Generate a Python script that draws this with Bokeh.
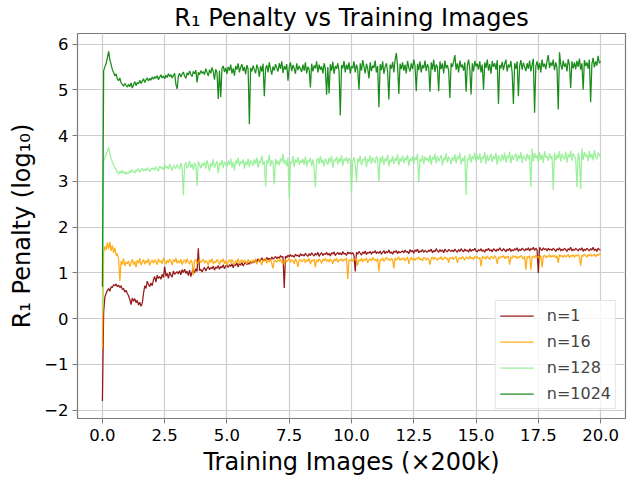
from bokeh.plotting import figure
from bokeh.models import Range1d, FixedTicker, Legend, LegendItem, NumeralTickFormatter
from bokeh.embed import file_html
from bokeh.resources import INLINE

# ---------------- data ----------------
# one value at step 0, then 20 values per unit of the x axis (0.05 apart)
steps = [0.0] + [round(0.05 * i, 2) for i in range(1, 401)]

n1 = [
    -1.80,
    0.15, 0.48, 0.55, 0.62, 0.66, 0.60, 0.70, 0.68, 0.74, 0.72, 0.76, 0.70, 0.73, 0.68, 0.72, 0.64, 0.66, 0.58, 0.62, 0.55,
    0.50, 0.42, 0.31, 0.45, 0.38, 0.44, 0.35, 0.40, 0.30, 0.36, 0.27, 0.34, 0.55, 0.72, 0.66, 0.82, 0.75, 0.70, 0.78, 0.72,
    0.85, 0.92, 0.80, 0.95, 0.88, 0.92, 0.86, 0.97, 0.90, 1.14, 0.93, 0.99, 0.88, 1.02, 0.95, 0.91, 1.04, 0.97, 1.00, 1.03,
    0.98, 1.05, 0.96, 1.07, 1.01, 1.08, 0.99, 1.04, 0.94, 1.06, 0.92, 1.02, 1.07, 1.00, 1.09, 1.03, 1.54, 1.05, 1.08, 1.02,
    1.08, 1.12, 1.04, 1.10, 1.14, 1.07, 1.12, 1.09, 1.15, 1.06, 1.13, 1.10, 1.16, 1.08, 1.14, 1.11, 1.18, 1.09, 1.15, 1.17,
    1.12, 1.18, 1.14, 1.20, 1.11, 1.19, 1.16, 1.22, 1.13, 1.21, 1.17, 1.23, 1.15, 1.20, 1.24, 1.18, 1.22, 1.19, 1.25, 1.21,
    1.26, 1.22, 1.29, 1.24, 1.31, 1.25, 1.28, 1.33, 1.26, 1.30, 1.27, 1.34, 1.29, 1.32, 1.28, 1.35, 1.30, 1.33, 1.36, 1.31,
    1.35, 1.32, 1.38, 1.34, 1.36, 0.67, 1.37, 1.33, 1.39, 1.35, 1.40, 1.36, 1.38, 1.34, 1.41, 1.37, 1.39, 1.35, 1.42, 1.38,
    1.40, 1.37, 1.43, 1.39, 1.36, 1.42, 1.38, 1.44, 1.40, 1.37, 1.43, 1.39, 1.45, 1.36, 1.41, 1.44, 1.38, 1.42, 1.40, 1.45,
    1.39, 1.43, 1.37, 1.44, 1.41, 1.46, 1.38, 1.42, 1.45, 1.40, 1.44, 1.39, 1.47, 1.41, 1.43, 1.38, 1.46, 1.42, 1.45, 1.41,
    1.44, 1.38, 1.03, 1.45, 1.41, 1.47, 1.43, 1.39, 1.46, 1.42, 1.48, 1.40, 1.45, 1.43, 1.47, 1.41, 1.46, 1.44, 1.49, 1.42,
    1.46, 1.43, 1.48, 1.41, 1.45, 1.49, 1.42, 1.47, 1.44, 1.50, 1.43, 1.46, 1.41, 1.48, 1.45, 1.49, 1.42, 1.47, 1.44, 1.46,
    1.48, 1.44, 1.50, 1.45, 1.47, 1.42, 1.51, 1.46, 1.49, 1.43, 1.50, 1.47, 1.52, 1.44, 1.48, 1.46, 1.51, 1.45, 1.49, 1.47,
    1.45, 1.50, 1.47, 1.52, 1.44, 1.49, 1.46, 1.53, 1.48, 1.45, 1.51, 1.47, 1.50, 1.44, 1.52, 1.48, 1.46, 1.51, 1.49, 1.47,
    1.50, 1.46, 1.52, 1.48, 1.45, 1.51, 1.47, 1.53, 1.49, 1.46, 1.52, 1.48, 1.50, 1.45, 1.53, 1.47, 1.51, 1.49, 1.54, 1.48,
    1.46, 1.51, 1.48, 1.53, 1.47, 1.50, 1.45, 1.52, 1.49, 1.54, 1.48, 1.51, 1.46, 1.53, 1.50, 1.47, 1.52, 1.49, 1.55, 1.50,
    1.48, 1.53, 1.50, 1.46, 1.52, 1.49, 1.54, 1.47, 1.51, 1.48, 1.53, 1.50, 1.55, 1.47, 1.52, 1.49, 1.54, 1.51, 1.48, 1.53,
    1.50, 1.55, 1.48, 1.53, 1.51, 1.56, 1.49, 1.54, 1.50, 1.00, 1.56, 1.52, 1.49, 1.55, 1.51, 1.53, 1.48, 1.54, 1.50, 1.52,
    1.49, 1.54, 1.51, 1.47, 1.53, 1.50, 1.55, 1.48, 1.52, 1.49, 1.54, 1.51, 1.47, 1.53, 1.50, 1.56, 1.48, 1.52, 1.49, 1.54,
    1.51, 1.48, 1.53, 1.50, 1.55, 1.47, 1.52, 1.49, 1.54, 1.51, 1.48, 1.53, 1.50, 1.56, 1.49, 1.52, 1.47, 1.54, 1.51, 1.50,
]

n16 = [
    -0.65,
    1.45, 1.58, 1.50, 1.66, 1.52, 1.68, 1.48, 1.60, 1.44, 1.55, 1.38, 1.42, 1.30, 0.82, 1.26, 1.18, 1.32, 1.15, 1.24, 1.20,
    1.26, 1.14, 1.22, 1.30, 1.18, 1.25, 1.12, 1.28, 1.21, 1.32, 1.17, 1.24, 1.29, 1.19, 1.27, 1.22, 1.31, 1.16, 1.25, 1.28,
    1.21, 1.29, 1.24, 1.18, 1.31, 1.23, 1.27, 1.20, 1.33, 1.25, 1.19, 1.28, 1.22, 1.30, 1.26, 1.17, 1.29, 1.24, 1.32, 1.21,
    1.27, 1.22, 1.30, 1.18, 1.26, 1.29, 1.21, 1.31, 1.24, 1.19, 1.28, 1.23, 0.95, 1.27, 1.30, 1.20, 1.25, 1.29, 1.22, 1.26,
    1.30, 1.21, 1.27, 1.24, 1.16, 1.29, 1.23, 1.31, 1.19, 1.26, 1.22, 1.30, 1.25, 1.18, 1.28, 1.24, 1.31, 1.20, 1.27, 1.16,
    1.25, 1.29, 1.21, 1.30, 1.24, 1.18, 1.27, 1.23, 1.31, 1.20, 1.26, 1.29, 1.22, 1.28, 1.25, 1.19, 1.30, 1.24, 1.27, 1.22,
    1.28, 1.23, 1.31, 1.19, 1.26, 1.30, 1.24, 1.17, 1.29, 1.25, 1.32, 1.21, 1.27, 1.24, 1.30, 1.20, 1.10, 1.28, 1.26, 1.23,
    1.29, 1.25, 1.31, 1.22, 1.27, 1.18, 1.30, 1.24, 1.28, 1.32, 1.23, 1.29, 1.26, 1.20, 1.31, 1.25, 1.13, 1.28, 1.30, 1.24,
    1.27, 1.31, 1.22, 1.29, 1.25, 1.32, 1.19, 1.28, 1.26, 1.30, 1.12, 1.29, 1.24, 1.31, 1.27, 1.21, 1.30, 1.26, 1.32, 1.25,
    1.29, 1.24, 1.31, 1.27, 1.20, 1.30, 1.26, 1.32, 1.23, 1.29, 1.27, 1.31, 1.25, 1.30, 1.28, 1.33, 0.87, 1.29, 1.26, 1.31,
    1.25, 1.30, 1.28, 1.33, 1.16, 1.29, 1.26, 1.32, 1.24, 1.30, 1.27, 1.33, 1.22, 1.29, 1.31, 1.26, 1.34, 1.28, 1.30, 1.25,
    1.32, 1.03, 1.29, 1.27, 1.33, 1.25, 1.30, 1.34, 1.28, 1.31, 1.26, 1.32, 1.29, 1.10, 1.33, 1.28, 1.31, 1.35, 1.27, 1.32,
    1.29, 1.33, 1.26, 1.31, 1.35, 1.20, 1.30, 1.34, 1.28, 1.32, 1.27, 1.33, 1.30, 1.35, 1.29, 1.31, 1.26, 1.34, 1.32, 1.28,
    1.33, 1.30, 1.18, 1.32, 1.35, 1.29, 1.34, 1.31, 1.27, 1.33, 1.30, 1.36, 1.28, 1.32, 1.35, 1.30, 1.33, 1.22, 1.34, 1.31,
    1.35, 1.29, 1.33, 1.36, 1.22, 1.31, 1.34, 1.30, 1.36, 1.32, 1.28, 1.35, 1.33, 1.30, 1.37, 1.31, 1.34, 1.29, 1.36, 1.33,
    1.36, 1.31, 1.34, 1.14, 1.37, 1.32, 1.35, 1.30, 1.37, 1.33, 1.29, 1.36, 1.34, 1.31, 1.38, 1.33, 1.20, 1.35, 1.32, 1.37,
    1.34, 1.38, 1.31, 1.36, 1.33, 1.37, 1.18, 1.35, 1.32, 1.38, 1.34, 1.37, 1.31, 1.36, 1.33, 1.38, 1.35, 1.30, 1.37, 1.07,
    1.36, 1.33, 1.38, 1.07, 1.35, 1.37, 1.32, 1.39, 1.34, 1.36, 1.31, 1.38, 1.12, 1.36, 1.39, 1.33, 1.37, 1.35, 1.40, 1.34,
    1.38, 1.35, 1.39, 1.33, 1.37, 1.22, 1.40, 1.36, 1.38, 1.34, 1.39, 1.35, 1.37, 1.41, 1.33, 1.38, 1.36, 1.40, 1.34, 1.39,
    1.37, 1.40, 1.35, 1.16, 1.39, 1.36, 1.41, 1.38, 1.34, 1.40, 1.37, 1.42, 1.36, 1.39, 1.41, 1.35, 1.40, 1.38, 1.42, 1.40,
]

n128 = [
    0.12,
    3.45, 3.52, 3.58, 3.66, 3.74, 3.60, 3.50, 3.42, 3.36, 3.30, 3.26, 3.20, 3.16, 3.22, 3.18, 3.24, 3.17, 3.21, 3.15, 3.20,
    3.17, 3.23, 3.19, 3.26, 3.21, 3.18, 3.25, 3.22, 3.28, 3.20, 3.24, 3.29, 3.22, 3.27, 3.23, 3.30, 3.25, 3.21, 3.28, 3.26,
    3.30, 3.24, 3.32, 3.27, 3.22, 3.34, 3.28, 3.31, 3.25, 3.36, 3.29, 3.33, 3.26, 3.38, 3.30, 3.24, 3.35, 3.31, 3.28, 3.37,
    3.32, 3.26, 3.40, 3.30, 2.70, 3.36, 3.42, 3.28, 3.34, 3.45, 3.30, 3.38, 3.25, 3.41, 3.33, 2.90, 3.44, 3.36, 3.29, 3.39,
    3.34, 3.42, 3.28, 3.46, 3.36, 3.22, 3.40, 3.33, 3.48, 3.30, 3.38, 3.44, 3.18, 3.41, 3.35, 3.47, 3.29, 3.43, 3.37, 3.32,
    3.45, 3.36, 3.50, 3.30, 3.42, 3.24, 3.46, 3.38, 3.52, 3.33, 3.44, 3.39, 3.48, 3.28, 3.43, 3.35, 3.50, 3.31, 3.46, 3.40,
    3.34, 3.48, 3.38, 3.52, 3.30, 3.45, 3.40, 3.56, 3.36, 3.44, 2.89, 3.47, 3.39, 3.58, 3.33, 3.46, 3.41, 2.93, 3.49, 3.37,
    3.45, 3.35, 3.50, 3.42, 3.60, 3.38, 3.47, 3.33, 3.52, 2.62, 3.44, 3.39, 3.55, 3.31, 3.48, 3.41, 3.53, 3.36, 3.46, 3.40,
    3.49, 3.37, 3.54, 3.32, 3.46, 3.42, 3.52, 3.34, 3.48, 3.29, 2.87, 3.45, 3.51, 3.38, 3.55, 3.40, 3.47, 3.33, 3.50, 3.43,
    3.36, 3.52, 3.41, 3.56, 3.30, 3.48, 3.44, 3.54, 3.37, 3.50, 3.42, 3.57, 3.34, 3.49, 3.45, 3.53, 3.39, 3.51, 3.46, 2.74,
    3.44, 3.52, 3.38, 3.00, 3.50, 3.42, 3.56, 3.35, 3.48, 3.45, 3.54, 3.31, 3.49, 3.43, 3.57, 3.38, 3.52, 3.46, 3.40, 3.55,
    3.47, 3.00, 3.53, 3.41, 3.56, 3.36, 3.50, 3.44, 3.58, 3.33, 3.48, 3.42, 3.55, 3.38, 3.51, 3.45, 3.59, 3.35, 3.50, 3.43,
    3.56, 3.40, 3.52, 3.46, 3.58, 3.34, 3.50, 3.44, 3.55, 3.38, 3.53, 3.47, 3.60, 2.98, 3.49, 3.43, 3.57, 3.37, 3.54, 3.46,
    3.51, 3.42, 3.58, 3.36, 3.53, 3.47, 3.60, 3.39, 3.55, 3.44, 3.50, 3.57, 3.35, 3.52, 3.46, 3.61, 3.41, 3.54, 3.48, 3.38,
    3.53, 3.45, 3.59, 3.40, 3.55, 3.48, 3.62, 3.37, 3.51, 3.44, 3.57, 2.70, 3.50, 3.46, 3.60, 3.41, 3.55, 3.49, 3.63, 3.43,
    3.56, 3.47, 3.61, 3.40, 3.54, 3.49, 3.64, 3.38, 3.58, 3.45, 3.52, 3.60, 3.42, 3.55, 3.48, 3.62, 3.36, 3.57, 3.50, 3.44,
    3.59, 3.46, 3.63, 3.41, 3.56, 3.50, 3.65, 3.39, 3.58, 3.47, 3.54, 3.61, 3.43, 3.57, 3.49, 3.64, 3.40, 3.56, 3.52, 3.45,
    3.60, 3.48, 3.58, 2.87, 3.72, 3.44, 3.62, 3.51, 3.57, 3.42, 3.64, 3.47, 3.59, 3.40, 3.66, 3.52, 3.55, 3.45, 3.61, 3.49,
    3.56, 2.81, 3.63, 3.46, 3.58, 3.50, 3.66, 3.43, 3.60, 3.53, 3.48, 3.65, 3.41, 3.59, 3.52, 3.67, 3.45, 3.61, 3.55, 3.49,
    2.87, 3.62, 3.50, 2.83, 3.72, 3.47, 3.64, 3.54, 3.59, 3.44, 3.66, 3.51, 3.60, 3.46, 3.68, 3.55, 3.48, 3.63, 3.57, 3.52,
]

n1024 = [
    0.70,
    5.42, 5.50, 5.58, 5.70, 5.84, 5.66, 5.55, 5.44, 5.38, 5.30, 5.35, 5.24, 5.20, 5.26, 5.15, 5.12, 5.08, 5.14, 5.10, 5.06,
    5.12, 5.07, 5.15, 5.04, 5.11, 5.18, 5.09, 5.16, 5.13, 5.21, 5.14, 5.19, 5.24, 5.16, 5.22, 5.26, 5.19, 5.25, 5.21, 5.28,
    5.23, 5.29, 5.25, 5.31, 5.22, 5.28, 5.33, 5.26, 5.30, 5.24, 5.32, 5.27, 5.35, 5.29, 5.33, 5.26, 5.31, 5.36, 5.12, 5.02,
    5.30, 5.36, 5.28, 5.34, 5.39, 5.30, 5.25, 5.37, 5.32, 5.41, 5.34, 5.29, 5.40, 5.35, 5.43, 5.16, 5.38, 5.33, 5.42, 5.36,
    5.40, 5.33, 5.46, 5.38, 5.30, 5.44, 5.36, 5.49, 5.40, 5.22, 5.45, 5.38, 4.80, 5.42, 4.84, 5.47, 5.52, 5.39, 5.48, 5.35,
    5.50, 5.42, 5.55, 5.36, 5.47, 5.31, 5.52, 5.44, 5.58, 5.38, 5.49, 5.56, 5.41, 5.50, 5.34, 5.54, 5.45, 4.25, 5.48, 5.40,
    5.53, 5.44, 5.36, 5.55, 5.47, 5.28, 5.52, 5.40, 5.57, 4.86, 5.46, 5.54, 5.38, 5.60, 5.45, 5.33, 5.51, 5.42, 5.56, 5.48,
    5.40, 5.58, 5.46, 5.62, 5.37, 5.52, 5.44, 5.56, 5.20, 5.49, 5.60, 5.41, 5.54, 5.47, 5.35, 5.58, 5.43, 5.52, 5.46, 5.39,
    5.55, 5.42, 5.60, 5.36, 5.50, 5.45, 5.05, 5.57, 5.40, 5.53, 5.47, 5.62, 5.38, 5.55, 5.44, 5.51, 5.36, 5.58, 5.46, 4.89,
    5.50, 4.92, 5.56, 5.42, 5.61, 5.35, 5.52, 5.46, 5.58, 5.40, 4.44, 5.54, 5.47, 5.63, 5.38, 5.55, 5.44, 5.60, 5.36, 5.52,
    5.47, 5.62, 5.38, 5.55, 5.44, 5.00, 5.58, 5.42, 5.65, 5.50, 5.36, 5.57, 5.46, 5.25, 5.60, 5.41, 5.53, 5.48, 5.64, 5.38,
    5.52, 4.62, 5.56, 5.43, 5.62, 5.35, 5.50, 5.58, 5.40, 4.79, 5.55, 5.46, 5.61, 5.38, 5.66, 5.80, 5.52, 4.91, 5.57, 5.45,
    5.60, 5.42, 5.55, 5.36, 5.63, 5.48, 5.40, 5.58, 5.45, 5.66, 5.52, 4.97, 5.57, 5.43, 5.62, 5.38, 5.54, 5.47, 5.64, 5.41,
    5.56, 5.48, 4.96, 5.60, 5.44, 5.66, 5.39, 5.55, 5.50, 4.97, 5.62, 5.45, 5.58, 5.36, 5.64, 5.47, 5.54, 5.42, 4.82, 5.58,
    5.50, 5.62, 5.76, 5.44, 5.58, 5.38, 5.64, 5.49, 5.55, 5.42, 5.60, 4.96, 5.53, 5.66, 5.45, 4.90, 5.58, 5.40, 5.63, 5.51,
    5.57, 5.44, 5.62, 5.38, 5.55, 5.00, 5.60, 5.48, 5.66, 5.42, 5.56, 5.35, 5.63, 5.50, 5.58, 5.44, 5.65, 4.69, 5.54, 5.47,
    5.61, 5.43, 5.57, 5.66, 5.40, 5.55, 5.49, 5.63, 5.37, 4.69, 5.58, 5.46, 5.62, 4.86, 5.52, 5.65, 5.44, 5.59, 5.50, 5.41,
    5.58, 5.46, 5.64, 5.40, 5.55, 5.68, 4.50, 5.52, 5.62, 5.44, 5.59, 5.38, 5.66, 5.50, 5.57, 5.45, 5.63, 5.76, 5.48, 5.60,
    5.52, 5.66, 5.43, 5.60, 5.48, 4.57, 5.82, 5.56, 5.44, 5.64, 5.50, 5.58, 5.40, 5.67, 5.54, 5.04, 5.62, 5.47, 5.60, 5.45,
    5.63, 5.50, 5.68, 5.44, 5.58, 5.00, 5.65, 5.52, 5.60, 5.46, 5.66, 4.73, 5.56, 5.70, 5.49, 5.62, 5.53, 5.74, 5.58, 5.62,
]

series_names = ["n=1", "n=16", "n=128", "n=1024"]
series_values = [n1, n16, n128, n1024]
series_colors = ["#8B0000", "#FFA500", "#90EE90", "#008000"]

x_ticks = [0.0, 2.5, 5.0, 7.5, 10.0, 12.5, 15.0, 17.5, 20.0]
y_ticks = [-2, -1, 0, 1, 2, 3, 4, 5, 6]
y_tick_labels = ["\u22122", "\u22121", "0", "1", "2", "3", "4", "5", "6"]

title_text = "R\u2081 Penalty vs Training Images"
x_label = "Training Images (\u00d7200k)"
y_label = "R\u2081 Penalty (log\u2081\u2080)"

# ---------------- figure ----------------
FONT = "DejaVu Sans"
p = figure(width=635, height=478, output_backend="svg", toolbar_location=None,
           x_range=Range1d(-1.0, 21.0), y_range=Range1d(-2.18, 6.23),
           min_border_left=77, min_border_right=10, min_border_top=33, min_border_bottom=59)
p.background_fill_color = "white"
p.border_fill_color = "white"
p.outline_line_color = "#7a7a7a"
p.outline_line_width = 1.2

p.title.text = title_text
p.title.align = "center"
p.title.text_font = FONT
p.title.text_font_size = "24px"
p.title.text_font_style = "normal"
p.title.text_color = "black"
p.title.standoff = 3

p.xaxis.ticker = FixedTicker(ticks=x_ticks)
p.xaxis.formatter = NumeralTickFormatter(format="0.0")
p.yaxis.ticker = FixedTicker(ticks=y_ticks)
p.yaxis.major_label_overrides = {t: s for t, s in zip(y_ticks, y_tick_labels)}
p.xaxis.axis_label = x_label
p.yaxis.axis_label = y_label

for ax in (p.xaxis, p.yaxis):
    ax.axis_line_color = None
    ax.major_tick_out = 5
    ax.major_tick_in = 0
    ax.minor_tick_out = 0
    ax.minor_tick_in = 0
    ax.major_tick_line_color = "#7a7a7a"
    ax.major_label_text_font = FONT
    ax.major_label_text_font_size = "16.5px"
    ax.major_label_text_color = "black"
    ax.axis_label_text_font = FONT
    ax.axis_label_text_font_size = "24px"
    ax.axis_label_text_font_style = "normal"
    ax.axis_label_text_color = "black"

p.yaxis.major_label_standoff = 4
p.yaxis.axis_label_standoff = 5
p.xaxis.major_label_standoff = 5
p.xaxis.axis_label_standoff = 4

p.grid.grid_line_color = "#cdcdcd"
p.grid.grid_line_width = 1.2

renderers = []
for vals, col in zip(series_values, series_colors):
    assert len(vals) == len(steps), (len(vals), len(steps))
    r = p.line(steps, vals, line_color=col, line_width=1.25, line_alpha=0.9)
    renderers.append(r)

legend = Legend(items=[LegendItem(label=nm, renderers=[r]) for nm, r in zip(series_names, renderers)],
                location="bottom_right")
legend.label_text_font = FONT
legend.label_text_font_size = "16px"
legend.glyph_width = 34
legend.glyph_height = 21
legend.label_height = 21
legend.spacing = 5
legend.padding = 4
legend.label_standoff = 13
legend.margin = 9
legend.border_line_color = "#cccccc"
legend.border_line_width = 1
legend.background_fill_alpha = 0.8
p.add_layout(legend)

open("out.html", "w").write(file_html(p, INLINE))
